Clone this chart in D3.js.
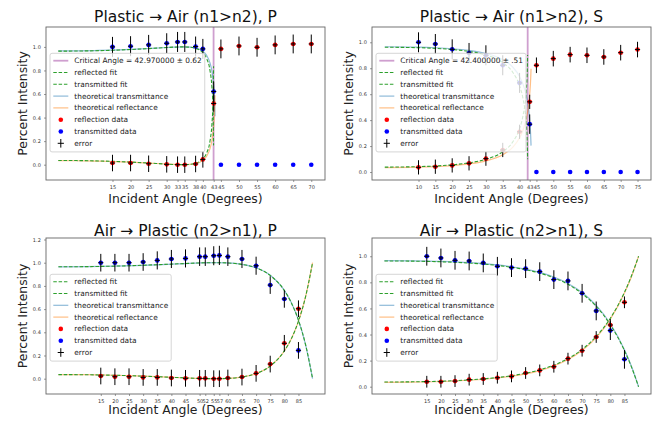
<!DOCTYPE html>
<html>
<head>
<meta charset="utf-8">
<script src="https://d3js.org/d3.v7.min.js"></script>
<style>
body { margin: 0; background: #fff; }
svg { display: block; font-family: "DejaVu Sans", sans-serif; }
</style>
</head>
<body>
<svg id="chart" width="656" height="422"></svg>
<script>
// ---------- data ----------

// Plastic -> Air, P
var p1Angles = [15, 20, 25, 30, 33, 35, 38, 40, 43, 45, 50, 55, 60, 65, 70];
var p1Refl = [0.014, 0.014, 0.008, 0.003, 0.0, 0.0, 0.006, 0.045, 0.52, 0.983, 1.008, 0.997, 1.017, 1.025, 1.025];
var p1Trans = [1.0, 1.006, 1.017, 1.031, 1.042, 1.042, 1.003, 0.983, 0.621, 0, 0, 0, 0, 0, 0];
var p1ReflErr = [0.07, 0.07, 0.07, 0.07, 0.07, 0.07, 0.07, 0.07, 0.07, 0.08, 0.08, 0.08, 0.08, 0.08, 0.08];
var p1TransErr = [0.085, 0.085, 0.085, 0.085, 0.085, 0.085, 0.085, 0.085, 0.085, 0, 0, 0, 0, 0, 0];
var p1FitAngles = [0, 5, 10, 15, 20, 25, 30, 32, 34.3, 36, 38, 40, 41, 42, 42.5, 42.8, 42.9, 42.96];
var p1FitR = [0.0358, 0.035, 0.0326, 0.0284, 0.0222, 0.0142, 0.005, 0.0018, 0, 0.0018, 0.0125, 0.049, 0.0955, 0.205, 0.338, 0.522, 0.656, 0.836];
var p1FitT = [0.9642, 0.965, 0.9674, 0.9716, 0.9778, 0.9858, 0.995, 0.9982, 1, 0.9982, 0.9875, 0.951, 0.9045, 0.795, 0.662, 0.478, 0.344, 0.164];
var p1TheoAngles = [0, 5, 10, 15, 20, 25, 30, 35, 38, 40, 41, 42, 42.5, 43, 43.2, 43.38];
var p1TheoR = [0.0341, 0.0333, 0.031, 0.027, 0.0213, 0.0137, 0.0051, 0.0001, 0.0093, 0.0367, 0.0696, 0.1379, 0.2044, 0.3323, 0.4292, 0.589];
var p1TheoT = [0.9659, 0.9667, 0.969, 0.973, 0.9787, 0.9863, 0.9949, 0.9999, 0.9907, 0.9633, 0.9304, 0.8621, 0.7956, 0.6677, 0.5708, 0.411];
var p1Crit = 42.97;

// Plastic -> Air, S
var p2Angles = [10, 15, 20, 25, 30, 35, 40, 43, 45, 50, 55, 60, 65, 70, 75];
var p2Refl = [0.036, 0.041, 0.051, 0.067, 0.103, 0.17, 0.31, 0.541, 0.823, 0.874, 0.905, 0.9, 0.887, 0.92, 0.944];
var p2Trans = [1.0, 0.987, 0.946, 0.918, 0.9, 0.823, 0.687, 0.369, 0, 0, 0, 0, 0, 0, 0];
var p2ReflErr = [0.055, 0.055, 0.055, 0.055, 0.055, 0.055, 0.055, 0.055, 0.06, 0.06, 0.06, 0.06, 0.06, 0.06, 0.06];
var p2TransErr = [0.077, 0.077, 0.077, 0.077, 0.077, 0.077, 0.077, 0.075, 0, 0, 0, 0, 0, 0, 0];
var p2FitAngles = [0, 10, 15, 20, 25, 30, 35, 38, 40, 41, 42, 42.3, 42.38];
var p2FitR = [0.0378, 0.0415, 0.0467, 0.0556, 0.0708, 0.0984, 0.1567, 0.2328, 0.3362, 0.4327, 0.6371, 0.7977, 0.9019];
var p2FitT = [0.9622, 0.9585, 0.9533, 0.9444, 0.9292, 0.9016, 0.8433, 0.7672, 0.6638, 0.5673, 0.3629, 0.2023, 0.0981];
var p2TheoAngles = [0, 10, 15, 20, 25, 30, 35, 38, 40, 41, 42, 43, 43.3, 43.4];
var p2TheoR = [0.0341, 0.0373, 0.0419, 0.0496, 0.0627, 0.0861, 0.1337, 0.192, 0.2637, 0.322, 0.4136, 0.5993, 0.7238, 0.7965];
var p2TheoT = [0.9659, 0.9627, 0.9581, 0.9504, 0.9373, 0.9139, 0.8663, 0.808, 0.7363, 0.678, 0.5864, 0.4007, 0.2762, 0.2035];
var p2Crit = 42.4;

// Air -> Plastic, P
var p3Angles = [15, 20, 25, 30, 35, 40, 45, 50, 52, 55, 57, 60, 65, 70, 75, 80, 85];
var p3Refl = [0.023, 0.017, 0.017, 0.011, 0.011, 0.006, 0.003, 0.003, 0.003, 0.0, 0.0, 0.006, 0.014, 0.046, 0.126, 0.305, 0.603];
var p3Trans = [1.0, 1.0, 1.0, 1.006, 1.02, 1.032, 1.037, 1.052, 1.052, 1.06, 1.063, 1.052, 1.032, 0.974, 0.807, 0.687, 0.244];
var p3ReflErr = [0.072, 0.072, 0.072, 0.072, 0.072, 0.072, 0.072, 0.072, 0.072, 0.072, 0.072, 0.072, 0.072, 0.072, 0.072, 0.072, 0.072];
var p3TransErr = [0.076, 0.076, 0.076, 0.076, 0.078, 0.078, 0.078, 0.08, 0.08, 0.082, 0.083, 0.08, 0.078, 0.078, 0.076, 0.075, 0.072];
var p3CurveAngles = [0, 10, 20, 30, 40, 45, 50, 55.7, 60, 65, 70, 75, 80, 82.5, 85, 87.5, 90];
var p3TheoR = [0.0358, 0.0343, 0.0298, 0.0223, 0.0124, 0.0071, 0.0022, 0, 0.0023, 0.014, 0.0439, 0.1085, 0.2386, 0.3452, 0.4946, 0.7044, 1];
var p3TheoT = [0.9642, 0.9657, 0.9702, 0.9777, 0.9876, 0.9929, 0.9978, 1, 0.9977, 0.986, 0.9561, 0.8915, 0.7614, 0.6548, 0.5054, 0.2956, 0];
var p3FitR = [0.0352, 0.0338, 0.0294, 0.022, 0.0122, 0.007, 0.0021, 0, 0.0024, 0.0143, 0.0445, 0.1095, 0.2398, 0.3465, 0.4958, 0.7052, 1];
var p3FitT = [0.9648, 0.9662, 0.9706, 0.978, 0.9878, 0.993, 0.9979, 1, 0.9976, 0.9857, 0.9555, 0.8905, 0.7602, 0.6535, 0.5042, 0.2948, 0];

// Air -> Plastic, S
var p4Angles = [15, 20, 25, 30, 35, 40, 45, 50, 55, 60, 65, 70, 75, 80, 85];
var p4Refl = [0.038, 0.038, 0.043, 0.054, 0.059, 0.069, 0.079, 0.105, 0.125, 0.153, 0.215, 0.276, 0.381, 0.473, 0.647];
var p4Trans = [1.0, 0.987, 0.969, 0.964, 0.949, 0.923, 0.913, 0.905, 0.882, 0.821, 0.811, 0.716, 0.581, 0.43, 0.21];
var p4ReflErr = [0.045, 0.045, 0.045, 0.045, 0.045, 0.045, 0.045, 0.045, 0.045, 0.045, 0.045, 0.045, 0.045, 0.045, 0.045];
var p4TransErr = [0.072, 0.072, 0.072, 0.072, 0.072, 0.072, 0.072, 0.072, 0.072, 0.072, 0.072, 0.072, 0.072, 0.072, 0.072];
var p4FitAngles = [0, 10, 15, 20, 25, 30, 35, 40, 45, 50, 55, 60, 65, 70, 75, 80, 85, 87.5, 90];
var p4FitR = [0.0358, 0.0374, 0.0394, 0.0423, 0.0465, 0.0522, 0.0599, 0.0703, 0.0842, 0.1032, 0.1291, 0.165, 0.2151, 0.2854, 0.3846, 0.525, 0.7229, 0.85, 1];
var p4FitT = [0.9642, 0.9626, 0.9606, 0.9577, 0.9535, 0.9478, 0.9401, 0.9297, 0.9158, 0.8968, 0.8709, 0.835, 0.7849, 0.7146, 0.6154, 0.475, 0.2771, 0.15, 0];
var p4TheoAngles = [0, 10, 20, 30, 40, 45, 50, 55, 60, 65, 70, 75, 80, 85, 87.5, 90];
var p4TheoR = [0.0337, 0.0352, 0.0399, 0.0494, 0.0667, 0.0802, 0.0986, 0.1238, 0.1589, 0.2082, 0.2778, 0.3767, 0.5176, 0.7177, 0.845, 1];
var p4TheoT = [0.9663, 0.9648, 0.9601, 0.9506, 0.9333, 0.9198, 0.9014, 0.8762, 0.8411, 0.7918, 0.7222, 0.6233, 0.4824, 0.2823, 0.155, 0];

// tick labels
var yTicksTop = [0, 0.2, 0.4, 0.6, 0.8, 1.0];
var yTicksP3 = [0, 0.2, 0.4, 0.6, 0.8, 1.0, 1.2];

// ---------- styles ----------
var colTheoT = "#1f77b4", colTheoR = "#ff7f0e", colFit = "#2ca02c", colCrit = "#cf9fcf";
var legendFont = 7.4, rowH = 11.8;

var svg = d3.select("#chart");

function zip(xs, ys) { return xs.map(function(d, i) { return [d, ys[i]]; }); }

function drawPanel(p) {
  var x = d3.scaleLinear().domain(p.xDomain).range([p.left, p.right]);
  var y = d3.scaleLinear().domain(p.yDomain).range([p.bottom, p.top]);
  var g = svg.append("g");

  var clipId = "clip" + p.id;
  g.append("clipPath").attr("id", clipId)
    .append("rect")
    .attr("x", p.left).attr("y", p.top)
    .attr("width", p.right - p.left).attr("height", p.bottom - p.top);
  var plot = g.append("g").attr("clip-path", "url(#" + clipId + ")");

  // critical angle
  if (p.crit != null) {
    plot.append("line")
      .attr("x1", x(p.crit)).attr("x2", x(p.crit))
      .attr("y1", p.top).attr("y2", p.bottom)
      .attr("stroke", colCrit).attr("stroke-width", 1.8);
  }

  var line = d3.line()
    .x(function(d) { return x(d[0]); })
    .y(function(d) { return y(d[1]); })
    .curve(d3.curveMonotoneX);

  // theoretical curves
  plot.append("path").attr("d", line(zip(p.theoAngles, p.theoT)))
    .attr("fill", "none").attr("stroke", colTheoT).attr("stroke-opacity", 0.5).attr("stroke-width", 1.2);
  plot.append("path").attr("d", line(zip(p.theoAngles, p.theoR)))
    .attr("fill", "none").attr("stroke", colTheoR).attr("stroke-opacity", 0.5).attr("stroke-width", 1.2);

  // fits
  [p.fitR, p.fitT].forEach(function(vals) {
    plot.append("path").attr("d", line(zip(p.fitAngles, vals)))
      .attr("fill", "none").attr("stroke", colFit).attr("stroke-width", 1.1)
      .attr("stroke-dasharray", "3.5,1.8");
  });

  // data dots
  [[p.refl, "red"], [p.trans, "blue"]].forEach(function(s) {
    plot.selectAll(null).data(zip(p.angles, s[0])).enter()
      .append("circle")
      .attr("cx", function(d) { return x(d[0]); })
      .attr("cy", function(d) { return y(d[1]); })
      .attr("r", 2.3)
      .attr("fill", s[1]);
  });

  // error bars with "+" marker
  [[p.refl, p.reflErr], [p.trans, p.transErr]].forEach(function(s) {
    var pts = p.angles.map(function(a, i) { return { a: a, v: s[0][i], e: s[1][i] }; })
      .filter(function(d) { return d.e > 0; });
    var eg = plot.append("g").attr("stroke", "#000").attr("stroke-width", 1);
    eg.selectAll(null).data(pts).enter().append("line")
      .attr("x1", function(d) { return x(d.a); }).attr("x2", function(d) { return x(d.a); })
      .attr("y1", function(d) { return y(d.v - d.e); }).attr("y2", function(d) { return y(d.v + d.e); });
    eg.selectAll(null).data(pts).enter().append("line")
      .attr("x1", function(d) { return x(d.a) - 2.6; }).attr("x2", function(d) { return x(d.a) + 2.6; })
      .attr("y1", function(d) { return y(d.v); }).attr("y2", function(d) { return y(d.v); });
  });

  // axes
  var xAxis = g.append("g").attr("transform", "translate(0," + p.bottom + ")")
    .call(d3.axisBottom(x).tickValues(p.angles).tickSize(2).tickPadding(3.2).tickFormat(d3.format("d")));
  var yAxis = g.append("g").attr("transform", "translate(" + p.left + ",0)")
    .call(d3.axisLeft(y).tickValues(p.yTicks).tickSize(2).tickPadding(3.2).tickFormat(d3.format(".1f")));
  [xAxis, yAxis].forEach(function(a) {
    a.select(".domain").remove();
    a.selectAll(".tick line").attr("stroke", "#555").attr("stroke-width", 0.6);
    a.selectAll(".tick text").attr("fill", "#333").style("font-size", "5px")
      .style("font-family", "DejaVu Sans, sans-serif");
  });

  g.append("rect")
    .attr("x", p.left).attr("y", p.top)
    .attr("width", p.right - p.left).attr("height", p.bottom - p.top)
    .attr("fill", "none").attr("stroke", "#666").attr("stroke-width", 0.9);

  // title + labels
  var cx = (p.left + p.right) / 2;
  g.append("text").attr("x", cx).attr("y", p.titleY)
    .attr("text-anchor", "middle").style("font-size", "15.5px").attr("fill", "#111")
    .text(p.title);
  g.append("text").attr("x", cx).attr("y", p.xLabelY)
    .attr("text-anchor", "middle").style("font-size", "12.4px").attr("fill", "#222")
    .text("Incident Angle (Degrees)");
  g.append("text")
    .attr("transform", "translate(" + p.yLabelX + "," + ((p.top + p.bottom) / 2) + ") rotate(-90)")
    .attr("text-anchor", "middle").style("font-size", "12.4px").attr("fill", "#222")
    .text("Percent Intensity");

  // legend
  var items = [];
  if (p.critLabel) items.push({ kind: "line", color: colCrit, width: 1.8, label: p.critLabel });
  items.push({ kind: "line", color: colFit, width: 1.1, dash: "3.5,1.8", label: "reflected fit" });
  items.push({ kind: "line", color: colFit, width: 1.1, dash: "3.5,1.8", label: "transmitted fit" });
  items.push({ kind: "line", color: colTheoT, width: 1.2, op: 0.5, label: "theoretical transmittance" });
  items.push({ kind: "line", color: colTheoR, width: 1.2, op: 0.5, label: "theoretical reflectance" });
  items.push({ kind: "dot", color: "red", label: "reflection data" });
  items.push({ kind: "dot", color: "blue", label: "transmitted data" });
  items.push({ kind: "err", label: "error" });

  var lg = g.append("g");
  var box = lg.append("rect")
    .attr("x", p.legX).attr("y", p.legY).attr("rx", 2).attr("ry", 2)
    .attr("fill", "#fff").attr("fill-opacity", 0.8)
    .attr("stroke", "#ccc").attr("stroke-width", 0.8);
  var maxW = 0;
  items.forEach(function(it, i) {
    var cy = p.legY + 7.4 + i * rowH;
    var hx = p.legX + 3.3;
    if (it.kind === "line") {
      lg.append("line").attr("x1", hx).attr("x2", hx + 15).attr("y1", cy).attr("y2", cy)
        .attr("stroke", it.color).attr("stroke-width", it.width)
        .attr("stroke-opacity", it.op || 1)
        .attr("stroke-dasharray", it.dash || null);
    } else if (it.kind === "dot") {
      lg.append("circle").attr("cx", hx + 7.5).attr("cy", cy).attr("r", 2.3).attr("fill", it.color);
    } else {
      lg.append("line").attr("x1", hx + 7.5).attr("x2", hx + 7.5).attr("y1", cy - 4.3).attr("y2", cy + 4.3)
        .attr("stroke", "#000").attr("stroke-width", 1);
      lg.append("line").attr("x1", hx + 4.4).attr("x2", hx + 10.6).attr("y1", cy).attr("y2", cy)
        .attr("stroke", "#000").attr("stroke-width", 1);
    }
    var t = lg.append("text").attr("x", p.legX + 24.3).attr("y", cy).attr("dy", "0.35em")
      .style("font-size", legendFont + "px").attr("fill", "#222").text(it.label);
    maxW = Math.max(maxW, t.node().getComputedTextLength());
  });
  box.attr("width", 24.3 + maxW + 3).attr("height", 7.4 + (items.length - 1) * rowH + 8.6);
}

var panels = [
  { id: 1, title: "Plastic \u2192 Air (n1>n2), P", left: 46, right: 325, top: 27, bottom: 180,
    xDomain: [-3.4, 73.8], yDomain: [-0.13, 1.169], yTicks: yTicksTop,
    angles: p1Angles, refl: p1Refl, trans: p1Trans, reflErr: p1ReflErr, transErr: p1TransErr,
    fitAngles: p1FitAngles, fitR: p1FitR, fitT: p1FitT,
    theoAngles: p1TheoAngles, theoR: p1TheoR, theoT: p1TheoT,
    crit: p1Crit, critLabel: "Critical Angle = 42.970000 \u00b1 0.62",
    titleY: 21.5, xLabelY: 203, yLabelX: 26.5, legX: 50, legY: 53.3 },
  { id: 2, title: "Plastic \u2192 Air (n1>n2), S", left: 372, right: 651, top: 27, bottom: 180,
    xDomain: [-3.8, 79], yDomain: [-0.0615, 1.118], yTicks: yTicksTop,
    angles: p2Angles, refl: p2Refl, trans: p2Trans, reflErr: p2ReflErr, transErr: p2TransErr,
    fitAngles: p2FitAngles, fitR: p2FitR, fitT: p2FitT,
    theoAngles: p2TheoAngles, theoR: p2TheoR, theoT: p2TheoT,
    crit: p2Crit, critLabel: "Critical Angle = 42.400000 \u00b1 .51",
    titleY: 21.5, xLabelY: 203, yLabelX: 352.5, legX: 376, legY: 53.3 },
  { id: 3, title: "Air \u2192 Plastic (n2>n1), P", left: 46, right: 325, top: 238, bottom: 394,
    xDomain: [-4.4, 94.4], yDomain: [-0.132, 1.213], yTicks: yTicksP3,
    angles: p3Angles, refl: p3Refl, trans: p3Trans, reflErr: p3ReflErr, transErr: p3TransErr,
    fitAngles: p3CurveAngles, fitR: p3FitR, fitT: p3FitT,
    theoAngles: p3CurveAngles, theoR: p3TheoR, theoT: p3TheoT,
    crit: null, critLabel: null,
    titleY: 236, xLabelY: 414, yLabelX: 26.5, legX: 50, legY: 274.3 },
  { id: 4, title: "Air \u2192 Plastic (n2>n1), S", left: 372, right: 651, top: 238, bottom: 394,
    xDomain: [-4.4, 94.4], yDomain: [-0.056, 1.14], yTicks: yTicksTop,
    angles: p4Angles, refl: p4Refl, trans: p4Trans, reflErr: p4ReflErr, transErr: p4TransErr,
    fitAngles: p4FitAngles, fitR: p4FitR, fitT: p4FitT,
    theoAngles: p4TheoAngles, theoR: p4TheoR, theoT: p4TheoT,
    crit: null, critLabel: null,
    titleY: 236, xLabelY: 414, yLabelX: 352.5, legX: 376, legY: 274.3 }
];

panels.forEach(drawPanel);
</script>
</body>
</html>
